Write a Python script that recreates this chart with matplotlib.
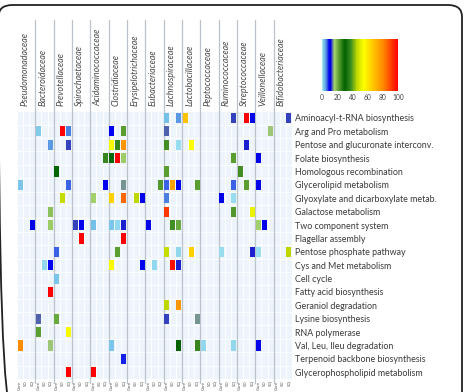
import numpy as np
import matplotlib.pyplot as plt
from matplotlib.colors import LinearSegmentedColormap, Normalize
from matplotlib.patches import FancyBboxPatch

families = ['Pseudomonadaceae', 'Bacteroidaceae', 'Prevotellaceae', 'Spirochaetaceae',
            'Acidaminococcaceae', 'Clostridiaceae', 'Erysipelotrichaceae', 'Eubacteriaceae',
            'Lachnospiraceae', 'Lactobacillaceae', 'Peptococcaceae', 'Ruminococcaceae',
            'Streptococcaceae', 'Veillonellaceae', 'Bifidobacteriaceae']
groups = ['Core', 'SD', 'SQ']
pathways = ['Aminoacyl-t-RNA biosynthesis', 'Arg and Pro metabolism',
            'Pentose and glucuronate interconv.', 'Folate biosynthesis',
            'Homologous recombination', 'Glycerolipid metabolism',
            'Glyoxylate and dicarboxylate metab.', 'Galactose metabolism',
            'Two component system', 'Flagellar assembly', 'Pentose phosphate pathway',
            'Cys and Met metabolism', 'Cell cycle', 'Fatty acid biosynthesis',
            'Geraniol degradation', 'Lysine biosynthesis', 'RNA polymerase',
            'Val, Leu, Ileu degradation', 'Terpenoid backbone biosynthesis',
            'Glycerophospholipid metabolism']

# (column, percent) for each pathway; column = 3 * family + group
hits = [
    [(24, 3), (26, 5), (27, 68), (35, 12.5), (37, 100), (38, 10), (44, 12.5)],
    [(3, 2), (7, 100), (8, 6), (15, 9), (17, 22), (24, 13.5), (41, 16)],
    [(5, 5), (8, 12.5), (15, 54), (16, 25), (17, 78), (24, 24), (26, 1), (28, 55), (37, 12)],
    [(14, 25), (15, 29), (16, 100), (17, 17), (35, 22), (39, 10)],
    [(6, 31), (24, 22), (36, 24)],
    [(0, 2.5), (8, 7), (14, 9), (17, 14.5), (23, 23), (24, 7), (25, 75), (26, 10),
     (29, 22), (35, 7), (37, 22), (39, 10)],
    [(7, 47), (12, 16.5), (15, 65), (17, 85), (19, 46), (20, 10), (24, 6), (33, 10), (35, 1)],
    [(5, 18), (24, 92), (35, 23), (38, 52)],
    [(2, 10), (5, 17), (9, 12.5), (10, 9), (12, 3), (15, 2.5), (16, 1.5), (17, 12),
     (21, 10), (25, 24), (26, 21), (39, 16.5), (40, 10)],
    [(10, 100), (17, 100)],
    [(6, 7), (16, 22), (24, 47), (26, 1.5), (28, 65), (33, 1), (38, 12), (39, 1), (44, 46)],
    [(4, 1.5), (5, 9), (15, 54), (20, 9), (22, 1.5), (25, 98), (26, 12)],
    [(6, 2.5)],
    [(5, 100)],
    [(24, 46), (26, 78)],
    [(3, 13.5), (6, 21), (24, 12.5), (29, 14.5)],
    [(3, 22), (8, 54)],
    [(0, 80), (5, 16), (15, 2.5), (26, 30), (29, 25), (30, 1.5), (35, 1.5), (39, 10)],
    [(17, 8.5)],
    [(8, 100), (12, 100)],
]

cbar_stops = [0, 3, 6, 9, 11, 16, 22, 30, 38, 46, 55, 80, 100]
cbar_colors = ['#a6e8f2', '#70bce8', '#4a7ee0', '#0000f0', '#0000e0', '#a8d470',
               '#5a9e30', '#006000', '#3a9020', '#c0d800', '#ffff00', '#ff8c00', '#ff0000']
cbar_ticks = [0, 20, 40, 60, 80, 100]

cmap = LinearSegmentedColormap.from_list(
    'pct', list(zip(np.array(cbar_stops) / 100, cbar_colors)))
norm = Normalize(0, 100)

W, H = 467, 392
fig = plt.figure(figsize=(W / 100, H / 100), dpi=100)
plt.rcParams['font.family'] = ['Lato', 'DejaVu Sans']

# rounded frame, left and bottom edges fall outside the picture
frame = FancyBboxPatch((-1.5 / W, -20 / H), 463.5 / W, (H - 5 + 20) / H,
                       boxstyle='round,pad=0,rounding_size=0.03',
                       transform=fig.transFigure, fill=False, ec='#222222', lw=1.3)
fig.patches.append(frame)

top, bot = 111.3, 379.0
ax = fig.add_axes([17 / W, 1 - bot / H, 275 / W, (bot - top) / H])
ncol = 3 * len(families)
nrow = len(pathways)
ax.set_xlim(-0.5, ncol - 0.5)
ax.set_ylim(nrow - 0.5, -0.5)
ax.set_facecolor('#eef4fb')
for s in ax.spines.values():
    s.set_visible(False)

# faint white cell grid
for c in range(ncol + 1):
    ax.axvline(c - 0.5, color='white', lw=0.6, zorder=1)
for r in range(nrow + 1):
    ax.axhline(r - 0.5, color='white', lw=0.6, zorder=1)

# family separators running up into the label area
row_px = (bot - top) / nrow
for g in range(1, len(families)):
    ax.plot([3 * g - 0.5] * 2, [-0.5 - (top - 20) / row_px, nrow - 0.5 + 4 / row_px],
            color='#bcc3ca', lw=0.9, zorder=2, clip_on=False)

for r, row in enumerate(hits):
    for c, v in row:
        ax.bar(c, 0.76, width=0.82, bottom=r - 0.38, color=cmap(norm(v)), zorder=3)

ax.set_xticks([])
ax.yaxis.tick_right()
ax.set_yticks(range(nrow))
ax.set_yticklabels(pathways, fontsize=6.4, color='#3a3a3a')
ax.tick_params(axis='y', length=0, pad=2.5)

for g, fam in enumerate(families):
    ax.text(3 * g + 0.75, -0.5 - 5 / row_px, fam, rotation=90, ha='center', va='bottom',
            fontsize=6.4, style='italic', color='#4a4a4a', clip_on=False)

for c in range(ncol):
    ax.text(c, nrow - 0.5 + 1.5 / row_px, groups[c % 3], rotation=90, ha='center', va='top',
            fontsize=3.2, color='#555555', clip_on=False)

cax = fig.add_axes([322 / W, 1 - 91 / H, 76 / W, 52 / H])
sm = plt.cm.ScalarMappable(norm=norm, cmap=cmap)
cb = fig.colorbar(sm, cax=cax, orientation='horizontal', ticks=cbar_ticks)
cb.outline.set_visible(False)
cax.tick_params(length=0, labelsize=4.8, labelcolor='#444444', pad=2)

fig.savefig('out.png', dpi=100)
